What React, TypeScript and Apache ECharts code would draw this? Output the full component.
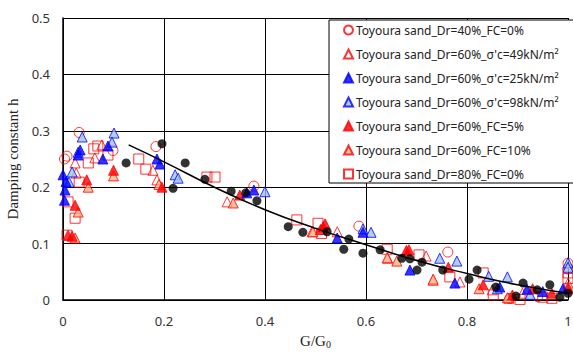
import React, { useEffect, useRef } from "react";
import * as echarts from "echarts";

const xTicks = [0, 0.2, 0.4, 0.6, 0.8, 1];
const yTicks = [0, 0.1, 0.2, 0.3, 0.4, 0.5];

const names = [
  "Toyoura sand_Dr=40%_FC=0%",
  "Toyoura sand_Dr=60%_σ'c=49kN/m²",
  "Toyoura sand_Dr=60%_σ'c=25kN/m²",
  "Toyoura sand_Dr=60%_σ'c=98kN/m²",
  "Toyoura sand_Dr=60%_FC=5%",
  "Toyoura sand_Dr=60%_FC=10%",
  "Toyoura sand_Dr=80%_FC=0%",
];

const dr40 = [
  [0.003, 0.25], [0.008, 0.255], [0.032, 0.297], [0.099, 0.265], [0.184, 0.272],
  [0.378, 0.202], [0.586, 0.131], [0.762, 0.085], [0.94, 0.006], [1.0, 0.065],
  [1.0, 0.055], [0.885, 0.003],
];
const sc49 = [
  [0.024, 0.243], [0.077, 0.275], [0.063, 0.252], [0.026, 0.225], [0.178, 0.23],
  [0.186, 0.213], [0.325, 0.174], [0.493, 0.121], [0.543, 0.121], [0.643, 0.074],
  [0.719, 0.078], [0.733, 0.035], [0.786, 0.032], [0.85, 0.018], [0.883, 0.003],
  [0.91, 0.012], [1.0, 0.03],
];
const sc25 = [
  [0.0, 0.222], [0.004, 0.195], [0.003, 0.177], [0.006, 0.21], [0.034, 0.266],
  [0.03, 0.257], [0.079, 0.25], [0.089, 0.273], [0.186, 0.25], [0.192, 0.241],
  [0.364, 0.19], [0.378, 0.195], [0.543, 0.11], [0.594, 0.12], [0.687, 0.053],
  [0.776, 0.03], [0.865, 0.023], [0.919, 0.019], [0.95, 0.015], [0.99, 0.02],
];
const sc98 = [
  [0.038, 0.289], [0.101, 0.296], [0.097, 0.28], [0.03, 0.262], [0.012, 0.209],
  [0.018, 0.227], [0.222, 0.222], [0.228, 0.216], [0.4, 0.192], [0.594, 0.126],
  [0.61, 0.12], [0.746, 0.074], [0.78, 0.069], [0.843, 0.042], [0.88, 0.041],
  [1.0, 0.066], [1.0, 0.058], [0.86, 0.02], [0.925, 0.01],
];
const fc5 = [
  [0.047, 0.213], [0.1, 0.23], [0.024, 0.168], [0.01, 0.115], [0.018, 0.113],
  [0.196, 0.2], [0.35, 0.186], [0.519, 0.135], [0.515, 0.13], [0.51, 0.125],
  [0.68, 0.088], [0.685, 0.089], [0.763, 0.058], [0.832, 0.027], [0.89, 0.009],
  [0.968, 0.012], [1.0, 0.02], [0.93, 0.02],
];
const fc10 = [
  [0.05, 0.2], [0.1, 0.22], [0.03, 0.156], [0.024, 0.11], [0.19, 0.205],
  [0.337, 0.172], [0.495, 0.121], [0.642, 0.075], [0.661, 0.069], [0.733, 0.037],
  [0.824, 0.02], [1.0, 0.023], [0.88, 0.004],
];
const dr80 = [
  [0.061, 0.268], [0.05, 0.243], [0.089, 0.257], [0.032, 0.209], [0.01, 0.174],
  [0.024, 0.145], [0.008, 0.115], [0.069, 0.273], [0.15, 0.25], [0.164, 0.232],
  [0.285, 0.218], [0.301, 0.218], [0.463, 0.142], [0.505, 0.136], [0.512, 0.118],
  [0.642, 0.09], [0.705, 0.08], [0.766, 0.041], [0.832, 0.048], [0.852, 0.009],
  [0.905, 0.001], [0.968, 0.003], [1.0, 0.048], [1.0, 0.038], [0.95, 0.005],
];
const black = [
  [0.125, 0.243], [0.196, 0.277], [0.242, 0.243], [0.218, 0.198], [0.281, 0.214],
  [0.333, 0.193], [0.362, 0.19], [0.384, 0.176], [0.446, 0.13], [0.475, 0.12],
  [0.523, 0.121], [0.566, 0.108], [0.556, 0.09], [0.594, 0.083], [0.628, 0.089],
  [0.671, 0.074], [0.687, 0.073], [0.701, 0.053], [0.711, 0.067], [0.752, 0.053],
  [0.804, 0.037], [0.82, 0.053], [0.857, 0.023], [0.897, 0.007], [0.911, 0.03],
  [0.939, 0.018], [0.964, 0.027], [0.984, 0.005], [1.0, 0.012],
];
const trend = [
  [0.13, 0.275], [0.2, 0.245], [0.3, 0.2], [0.4, 0.16], [0.5, 0.127],
  [0.6, 0.098], [0.7, 0.07], [0.8, 0.047], [0.9, 0.027], [1.0, 0.012],
];

const RED = "#FF0000";
const BLUE = "#0000FF";
const NONE = "rgba(255,255,255,0)";

function sc(name: string, data: number[][], symbol: string, size: number, fill: string, border: string) {
  return {
    type: "scatter",
    name,
    data,
    symbol,
    symbolSize: size,
    clip: false,
    itemStyle: { color: fill, borderColor: border, borderWidth: 1 },
    emphasis: { disabled: true },
  };
}

export default function App() {
  const ref = useRef<HTMLDivElement>(null);
  useEffect(() => {
    const chart = echarts.init(ref.current!, null, { renderer: "svg" });
    const sans = "'Noto Sans', sans-serif";
    chart.setOption({
      animation: false,
      backgroundColor: "#fff",
      grid: { left: 63, right: 5, top: 18, bottom: 52, outerBoundsMode: "none", containLabel: false },
      xAxis: {
        type: "value",
        min: xTicks[0],
        max: xTicks[xTicks.length - 1],
        interval: 0.2,
        name: "{a|G/G}{b|0}",
        nameLocation: "middle",
        nameGap: 32,
        nameTextStyle: {
          rich: {
            a: { fontFamily: "'Liberation Serif', serif", fontSize: 15, color: "#222" },
            b: { fontFamily: "'Liberation Serif', serif", fontSize: 10, color: "#222", padding: [7, 0, 0, 0] },
          },
        },
        axisLine: { lineStyle: { color: "#000", width: 1.5 } },
        axisTick: { show: false },
        splitLine: { show: true, lineStyle: { color: "#000", width: 1 } },
        axisLabel: {
          margin: 14,
          fontFamily: sans,
          fontSize: 13,
          color: "#333",
          showMaxLabel: true,
          formatter: (v: number) => String(Math.round(v * 10) / 10),
        },
      },
      yAxis: {
        type: "value",
        min: yTicks[0],
        max: yTicks[yTicks.length - 1],
        interval: 0.1,
        name: "Damping constant h",
        nameLocation: "middle",
        nameGap: 40,
        nameTextStyle: { fontFamily: "'Liberation Serif', serif", fontSize: 15, color: "#222" },
        axisLine: { show: true, lineStyle: { color: "#000", width: 1.5 } },
        axisTick: { show: false },
        splitLine: { show: true, lineStyle: { color: "#000", width: 1 } },
        axisLabel: {
          margin: 13,
          fontFamily: sans,
          fontSize: 13,
          color: "#333",
          formatter: (v: number) => String(Math.round(v * 10) / 10),
        },
      },
      legend: {
        data: names,
        orient: "vertical",
        left: 329,
        top: 20,
        backgroundColor: "#fff",
        borderColor: "#000",
        borderWidth: 1,
        borderRadius: 0,
        padding: [4, 18, 3, 14],
        itemGap: 12,
        itemWidth: 9,
        itemHeight: 9,
        textStyle: { fontFamily: sans, fontSize: 12, color: "#222", padding: [0, 0, 0, -2] },
      },
      series: [
        sc(names[6], dr80, "rect", 10, NONE, RED),
        sc(names[0], dr40, "circle", 10, NONE, RED),
        sc(names[1], sc49, "triangle", 10, NONE, RED),
        sc(names[3], sc98, "triangle", 10, "#9DC3E6", BLUE),
        sc(names[5], fc10, "triangle", 10, "#F4B183", RED),
        sc(names[4], fc5, "triangle", 10, RED, RED),
        sc(names[2], sc25, "triangle", 10, BLUE, BLUE),
        {
          type: "scatter",
          name: "data",
          data: black,
          symbol: "circle",
          symbolSize: 9,
          clip: false,
          itemStyle: { color: "#000" },
        },
        {
          type: "line",
          name: "trend",
          data: trend,
          smooth: true,
          showSymbol: false,
          symbol: "none",
          lineStyle: { color: "#000", width: 1.5 },
        },
      ],
    });
    return () => chart.dispose();
  }, []);
  return (
    <div
      ref={ref}
      style={{ position: "absolute", left: 0, top: 0, width: 573, height: 352 }}
    />
  );
}
